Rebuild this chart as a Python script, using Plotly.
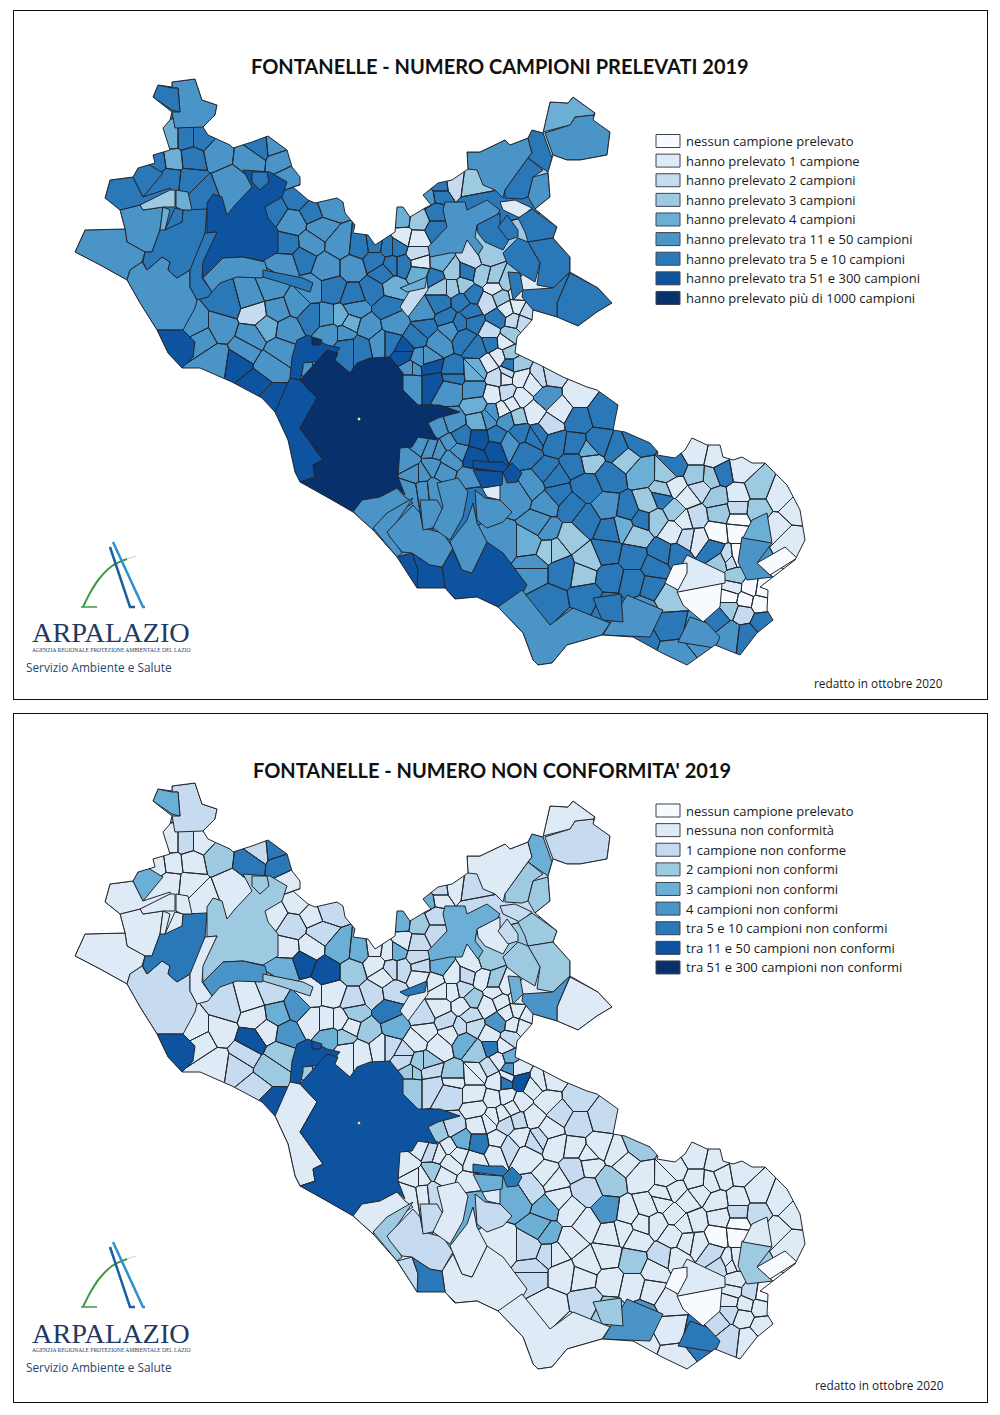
"""Fontanelle Lazio 2019: two choropleth panels drawn with Plotly.

Municipal shapes are approximated: large comuni are hand-read polygons, small
ones are cells grown around a centre point read off the map.
Map coordinates are the pixel positions of the upper map.
"""

import plotly.graph_objects as go

W, H = 1000, 1415

colori = ["#f7fbff", "#deebf7", "#c6dbef", "#9ecae1", "#6baed6", "#4a94c8", "#2b78b8", "#0d539f", "#08306b"]

legenda_campioni = [
    "nessun campione prelevato",
    "hanno prelevato 1 campione",
    "hanno prelevato 2 campioni",
    "hanno prelevato 3 campioni",
    "hanno prelevato 4 campioni",
    "hanno prelevato tra 11 e 50 campioni",
    "hanno prelevato tra 5 e 10 campioni",
    "hanno prelevato tra 51 e 300 campioni",
    "hanno prelevato più di 1000 campioni",
]
legenda_nc = [
    "nessun campione prelevato",
    "nessuna non conformità",
    "1 campione non conforme",
    "2 campioni non conformi",
    "3 campioni non conformi",
    "4 campioni non conformi",
    "tra 5 e 10 campioni non conformi",
    "tra 11 e 50 campioni non conformi",
    "tra 51 e 300 campioni non conformi",
]

# regional boundary
confine = [
    (153,97),(158,85),(172,87),(172,82),(195,79),(202,100),(217,105),(215,115),(203,127),(208,135),
    (230,145),(233,148),(252,142),(268,136),(287,150),(292,167),(300,177),(300,185),(293,187),(308,200),
    (315,203),(337,198),(343,202),(345,213),(355,225),(353,233),(368,235),(375,245),(395,232),
    (397,207),(403,207),(410,217),(425,208),(431,205),(423,195),(438,183),(452,180),(468,169),(467,152),
    (480,152),(505,140),(510,145),(528,138),(532,130),(543,133),(550,102),(568,103),(573,97),(595,113),
    (593,120),(610,132),(607,155),(580,160),(567,160),(553,155),(548,172),(550,197),(535,209),(557,227),
    (553,238),(570,257),(570,272),(598,288),(612,303),(597,312),(578,326),(557,317),(533,310),(532,320),
    (517,337),(515,353),(540,365),(563,377),(587,387),(597,390),(618,405),(613,430),(625,432),(650,443),
    (658,452),(657,455),(675,458),(685,450),(692,438),(707,445),(720,445),(723,457),(733,460),(742,457),
    (752,463),(765,463),(787,485),(800,510),(805,540),(795,560),(773,577),(760,587),(768,590),(767,610),
    (773,620),(757,633),(750,642),(740,655),(715,645),(687,665),(662,653),(633,637),(602,635),(567,645),
    (552,663),(538,665),(533,660),(523,633),(498,607),(477,597),(455,599),(445,588),(417,588),(397,557),
    (373,530),(353,512),(327,497),(300,482),(295,472),(288,440),(275,412),(262,398),(232,382),(200,368),
    (182,368),(168,353),(157,330),(140,303),(127,280),(100,265),(75,252),(85,230),(125,229),(120,210),
    (105,198),(110,180),(133,177),(138,168),(155,163),(153,155),(170,150),(163,128),(170,120),(172,112),
]

# small comuni: centre point and class on each map
nord_x = [193,167,170,186,201,217,172,192,158,250,257,277,282,230,170,190,203,290,297,273,293,313,327,320,288,310,340,302,327,287]
nord_y = [103,100,138,138,138,153,160,158,162,157,147,145,160,183,178,180,193,177,197,210,223,212,207,228,245,243,245,258,267,263]
nord_camp = [5,6,4,6,6,5,4,6,6,5,6,5,5,5,6,6,6,5,6,6,5,6,5,5,6,5,5,6,5,5]
nord_nc = [2,4,1,2,1,3,1,1,1,6,2,6,6,1,1,1,1,1,1,1,2,1,2,2,1,1,4,7,7,4]

ovest_x = [227,250,272,297,277,255,267,197,220,252,245,287,280,217,202,310,333,327,312,340,330,345,255,270,237,270]
ovest_y = [303,297,288,303,310,313,327,327,327,337,350,330,350,360,337,290,290,317,317,317,333,333,385,400,363,365]
ovest_camp = [6,5,5,5,5,2,4,5,5,5,5,5,5,5,5,5,6,5,6,4,5,5,7,7,7,5]
ovest_nc = [2,1,2,5,4,1,1,1,1,7,2,5,3,1,1,1,1,1,1,1,4,3,2,7,2,3]

centro_x = [402,418,403,397,417,437,437,417,420,419,440,453,472,467,453,435,440,463,487,482,495,495,505,488,500,472,518,507,517,527,
            513,523,498,490,510,505,490,510,498,490,510,517,462,470,423,440,447,460,473,450,425,438,465,478,403,420,412,430,453,477,
            505,520,540,360,375,375,388,402,392,353,383,373,393,388,355,350,368,395,353,380,360,347,417,390,440,455,470,428,440,473]
centro_y = [218,220,237,247,240,212,230,253,263,272,262,272,260,272,287,278,287,285,255,275,278,288,282,302,297,295,293,310,307,312,
            320,322,318,332,335,342,343,353,357,363,365,365,302,312,312,303,318,323,323,328,328,342,337,347,353,358,370,368,375,370,
            377,377,377,247,245,260,247,265,265,267,273,290,287,307,308,323,328,323,297,343,347,347,337,343,187,185,187,197,195,203]
centro_camp = [4,3,1,6,1,6,6,2,1,4,4,3,2,6,3,6,3,3,3,3,3,1,3,2,3,6,1,1,1,2,
               2,2,6,2,3,1,6,3,1,1,6,3,6,6,5,6,6,6,6,5,6,5,6,6,7,5,5,7,6,4,
               1,1,2,6,6,6,6,6,6,5,6,6,4,6,5,4,5,5,6,5,6,6,6,6,6,2,3,5,6,6]
centro_nc = [4,3,1,4,2,2,2,2,2,1,4,1,1,2,1,1,1,2,3,1,3,1,1,1,1,3,1,1,1,1,
             1,1,5,1,2,1,6,4,1,2,5,1,1,2,2,1,2,2,2,1,1,1,4,3,2,3,3,2,1,1,
             6,7,1,4,1,1,1,2,2,3,1,2,2,6,3,1,3,4,2,1,1,1,1,2,2,1,2,4,1,2]

roma_est_x = [407,420,432,415,422,433,442,450,450,457,438,410,423,433,470,472,412,413,432,450,475,453,475,477,480,493,403,427,
              480,495,475,460,452,440,487,497,508,520,538,527,547,532,517,530,503,533,547,548,497,507,493,507,520,502,512,518,507,533,550]
roma_est_y = [460,443,448,475,475,468,472,458,443,450,450,490,488,487,480,496,380,370,380,390,390,373,372,405,420,412,350,358,
              440,448,457,437,423,427,418,437,443,432,435,453,472,485,495,543,543,567,530,550,377,373,395,393,398,410,403,417,420,383,375]
roma_est_camp = [5,5,5,5,5,5,5,5,5,5,5,5,5,5,5,6,5,5,7,5,5,6,4,4,4,5,7,5,
                 7,7,7,6,5,5,5,6,5,6,6,6,6,5,5,4,5,5,5,3,2,2,1,2,1,1,1,3,5,1,2]
roma_est_nc = [1,1,2,1,1,3,1,1,1,1,1,1,1,2,1,4,3,3,2,2,1,3,1,1,1,1,2,3,
               6,1,1,4,2,3,1,1,2,1,2,1,1,2,4,2,1,2,4,2,1,1,1,1,1,1,1,2,2,1,1]

sud_x = [547,560,578,550,533,578,602,535,555,575,598,618,637,588,589,625,553,575,610,587,642,647,662,667,656,642,628,607,623,637,
         610,587,570,557,548,540,570,555,588,607,633,655,662,677,563,583,610,633,652,587,608,643,668,550,533,573,543,670,643,673,
         698,718,730,730,747,762,743,760,745,730,733,750,763,735,730,737,752,790,777,793,780,757,757,738,738,740,723,697,715,673,
         710,697,700,687,717,720,738,695,675,675,663,717,737,685,673,687,698,712,720,728]
sud_y = [397,410,395,425,413,420,413,437,442,445,443,450,442,452,460,458,477,463,477,487,473,503,497,473,520,520,510,507,527,535,
         530,520,507,495,503,525,538,550,560,552,557,567,553,555,570,573,577,582,587,597,608,610,597,603,570,627,650,627,642,653,
         633,618,608,633,635,622,613,603,600,597,587,588,590,577,560,557,560,540,527,510,497,488,510,520,495,470,473,453,457,467,
         478,477,488,498,498,513,508,517,510,487,492,532,530,520,532,538,540,550,562,558]
sud_camp = [5,1,1,2,1,6,6,6,6,6,6,6,6,4,3,3,6,6,6,6,4,3,6,3,3,6,6,5,4,3,
            6,6,6,6,5,5,3,3,3,6,6,6,6,6,6,3,6,6,6,6,6,5,3,6,5,5,5,6,6,5,
            5,6,3,5,6,6,2,0,0,0,1,0,0,3,2,0,5,1,1,1,1,3,3,0,1,1,6,1,1,6,
            3,3,2,1,3,3,2,2,3,1,3,0,0,1,1,2,1,6,3,2]
sud_nc = [1,2,2,1,1,2,2,2,1,1,1,1,3,1,1,1,1,2,3,2,1,1,1,1,1,1,1,5,1,1,
          1,1,1,1,4,4,1,1,1,1,3,1,2,1,1,1,1,1,1,2,3,5,1,1,2,1,1,1,1,1,
          6,2,2,2,1,1,1,1,1,1,1,2,0,1,1,1,3,1,1,1,1,1,2,0,1,1,1,1,1,1,
          1,1,1,1,1,1,2,1,1,1,1,0,0,1,1,1,1,2,2,1]

# large comuni, read as polygons, in drawing order
grandi_xy = [
    [(120,210),(140,205),(143,210),(163,207),(160,230),(152,252),(145,252),(127,242),(125,229)],
    [(75,252),(85,230),(125,229),(127,242),(145,252),(142,262),(130,270),(127,280),(100,265)],
    [(127,280),(130,270),(142,262),(147,270),(162,257),(170,262),(168,270),(177,278),(190,270),(190,287),(197,300),(195,308),(183,330),(157,330),(140,303)],
    [(143,262),(145,252),(152,252),(160,230),(182,222),(183,210),(207,209),(205,233),(195,262),(190,270),(177,278),(168,270),(170,262),(162,257),(147,270)],
    [(207,233),(207,203),(213,194),(222,197),(227,215),(235,205),(252,187),(243,170),(270,172),(287,182),(282,197),(265,207),(268,218),(278,230),(278,252),(263,261),(243,257),(223,258),(203,278),(202,262),(217,232)],
    [(252,172),(267,172),(269,182),(260,190),(252,182)],
    [(105,198),(110,180),(133,177),(143,197),(170,188),(172,192),(140,205),(120,210)],
    [(133,177),(138,168),(148,164),(163,173),(153,185),(143,197)],
    [(140,205),(170,190),(175,190),(175,207),(163,207),(143,210)],
    [(176,190),(188,192),(192,210),(182,210),(176,207)],
    [(163,207),(170,210),(165,230),(160,230)],
    [(175,208),(183,210),(182,222),(165,230)],
    [(203,278),(223,258),(243,257),(265,262),(267,270),(262,278),(237,277),(220,283),(212,292)],
    [(263,270),(303,278),(313,283),(310,292),(283,283),(263,277)],
    [(217,232),(203,262),(202,278),(212,292),(208,297),(197,300),(190,287),(190,270),(205,233)],
    [(157,330),(183,330),(195,342),(193,357),(182,368),(168,353)],
    [(292,357),(297,340),(308,335),(327,345),(340,348),(330,360),(303,363),(303,368),(300,380),(290,378)],
    [(312,337),(322,340),(320,345),(312,345)],
    [(290,378),(300,380),(317,398),(300,428),(323,460),(313,465),(315,477),(300,482),(295,472),(288,440),(275,412)],
    [(300,482),(315,477),(313,465),(323,460),(300,428),(317,398),(300,380),(327,350),(338,353),(335,360),(350,373),(357,363),(370,358),(390,357),(403,373),(403,390),(418,405),(440,405),(460,412),(438,418),(428,423),(437,440),(418,437),(412,447),(400,448),(398,477),(405,495),(397,488),(380,497),(362,500),(353,512),(327,497)],
    [(445,202),(465,202),(467,210),(487,200),(500,210),(497,215),(477,225),(475,237),(483,247),(478,255),(467,240),(462,253),(450,253),(430,257),(428,247),(447,227),(443,210)],
    [(467,152),(480,152),(505,140),(510,145),(528,138),(532,153),(528,158),(505,190),(503,198),(495,190),(483,185),(477,170),(468,169)],
    [(545,133),(570,125),(575,117),(593,115),(595,120),(610,132),(607,155),(580,160),(567,160),(553,155)],
    [(543,132),(550,102),(568,103),(573,97),(595,113),(593,115),(575,117),(570,125)],
    [(528,138),(532,130),(543,133),(552,158),(548,172),(528,158),(532,153)],
    [(528,158),(543,170),(533,177),(528,197),(522,199),(505,198),(505,190)],
    [(533,177),(548,173),(550,197),(535,209),(528,197)],
    [(500,202),(515,200),(532,208),(520,218),(503,210)],
    [(477,225),(497,215),(500,213),(500,228),(510,238),(503,250),(485,242),(478,233)],
    [(498,227),(507,215),(518,230),(518,237),(508,240)],
    [(518,218),(532,209),(557,227),(553,238),(528,242),(525,232)],
    [(528,242),(553,238),(570,257),(570,272),(553,288),(537,285),(540,263)],
    [(503,253),(518,238),(528,242),(540,263),(535,282),(520,273),(507,263)],
    [(557,303),(570,273),(598,288),(612,303),(597,312),(578,326),(557,317)],
    [(523,290),(553,288),(570,272),(557,303),(557,317),(533,310),(522,297)],
    [(508,272),(520,273),(523,290),(513,300)],
    [(427,277),(428,290),(408,317),(400,307),(412,287)],
    [(400,288),(427,277),(425,288),(407,292)],
    [(442,567),(453,550),(462,570),(472,573),(487,542),(503,553),(527,585),(517,603),(498,607),(477,597),(455,599),(445,588)],
    [(412,553),(418,570),(418,585),(417,588),(397,557)],
    [(412,553),(430,565),(442,567),(445,588),(457,600),(440,590),(417,588),(418,570)],
    [(353,512),(362,500),(380,497),(397,488),(405,497),(413,503),(387,520),(373,530)],
    [(373,528),(387,513),(413,498),(390,532),(402,553),(397,557)],
    [(387,532),(413,505),(420,513),(423,528),(443,533),(453,548),(442,567),(430,565),(412,553),(402,552),(390,537)],
    [(420,500),(437,500),(443,510),(437,527),(423,530)],
    [(437,483),(458,478),(468,492),(463,517),(450,540),(440,533),(433,528),(443,507)],
    [(450,542),(467,520),(473,503),(477,523),(487,542),(472,573),(462,570),(453,550)],
    [(475,490),(485,498),(500,500),(512,512),(503,522),(487,528),(477,520)],
    [(482,488),(500,485),(500,500),(487,497)],
    [(473,470),(503,472),(502,485),(482,488)],
    [(473,460),(487,462),(503,462),(508,467),(503,472),(473,468)],
    [(503,472),(512,463),(522,473),(517,482),(507,483)],
    [(677,592),(722,583),(720,607),(703,622),(683,605)],
    [(687,555),(725,573),(725,583),(678,592),(672,583)],
    [(673,565),(687,563),(687,573),(678,590),(665,583)],
    [(742,537),(772,543),(757,563),(773,577),(747,580),(738,562)],
    [(757,563),(785,547),(797,558),(770,575)],
    [(752,520),(767,513),(772,543),(743,538)],
    [(603,635),(627,595),(663,610),(650,637)],
    [(593,598),(621,594),(623,622),(602,620)],
    [(678,642),(690,617),(707,623),(720,637),(715,648)],
    [(172,82),(195,79),(202,100),(217,105),(215,115),(203,127),(175,128),(172,112),(180,112),(178,88),(172,88)],
    [(153,97),(158,85),(172,88),(178,88),(180,112),(172,110)],
    [(498,607),(522,590),(550,625),(573,608),(610,623),(602,635),(567,645),(552,663),(538,665),(533,660),(523,633)],
]
grandi_camp = [5,5,5,6,7,6,6,6,3,4,4,6,5,6,6,7,7,8,7,8,5,5,5,4,6,6,5,1,6,6,6,6,6,6,6,6,2,4,7,7,7,5,5,5,5,5,5,5,1,7,7,7,0,1,0,5,0,4,5,6,5,5,6,5]
grandi_nc = [1,1,2,6,3,3,1,4,1,1,1,1,5,3,1,7,7,7,1,7,4,1,2,1,4,3,3,2,1,2,3,3,3,1,5,4,1,6,1,2,6,1,3,2,2,1,1,2,1,4,6,6,0,1,0,3,0,1,5,3,6,2,4,1]

semi_x = nord_x + ovest_x + centro_x + roma_est_x + sud_x
semi_y = nord_y + ovest_y + centro_y + roma_est_y + sud_y
semi_camp = nord_camp + ovest_camp + centro_camp + roma_est_camp + sud_camp
semi_nc = nord_nc + ovest_nc + centro_nc + roma_est_nc + sud_nc

X0, X1, Y0, Y1 = 14, 987, 11, 699
LINEA = "#23272e"


def taglia(poly, a, b, c):
    # keep the part of a convex polygon where a*x + b*y <= c
    out = []
    for i, (x1, y1) in enumerate(poly):
        x2, y2 = poly[(i + 1) % len(poly)]
        d1 = a * x1 + b * y1 - c
        d2 = a * x2 + b * y2 - c
        if d1 <= 0:
            out.append((x1, y1))
        if d1 * d2 < 0:
            t = d1 / (d1 - d2)
            out.append((x1 + t * (x2 - x1), y1 + t * (y2 - y1)))
    return out


celle = []
for i in range(len(semi_x)):
    cella = [(X0, Y0), (X1, Y0), (X1, Y1), (X0, Y1)]
    for j in range(len(semi_x)):
        if i == j:
            continue
        a = semi_x[j] - semi_x[i]
        b = semi_y[j] - semi_y[i]
        c = (semi_x[j] ** 2 + semi_y[j] ** 2 - semi_x[i] ** 2 - semi_y[i] ** 2) / 2
        if a == 0 and b == 0:
            continue
        cella = taglia(cella, a, b, c)
        if not cella:
            break
    celle.append(cella)


def anello(poly):
    return [p[0] for p in poly] + [poly[0][0], None], [p[1] for p in poly] + [poly[0][1], None]


fig = go.Figure()


def disegna_mappa(classi_semi, classi_grandi, xa, ya):
    for k, colore in enumerate(colori):
        xs, ys = [], []
        for cella, cl in zip(celle, classi_semi):
            if cl == k and cella:
                cx, cy = anello(cella)
                xs += cx
                ys += cy
        if xs:
            fig.add_trace(go.Scatter(x=xs, y=ys, mode="lines", fill="toself", fillcolor=colore,
                                     line=dict(color=colore, width=0.5), xaxis=xa, yaxis=ya, hoverinfo="skip"))
    xs, ys = [], []
    for cella in celle:
        if cella:
            cx, cy = anello(cella)
            xs += cx
            ys += cy
    fig.add_trace(go.Scatter(x=xs, y=ys, mode="lines", line=dict(color=LINEA, width=1), xaxis=xa, yaxis=ya, hoverinfo="skip"))
    for poly, cl in zip(grandi_xy, classi_grandi):
        cx, cy = anello(poly)
        fig.add_trace(go.Scatter(x=cx[:-1], y=cy[:-1], mode="lines", fill="toself", fillcolor=colori[cl],
                                 line=dict(color=LINEA, width=1), xaxis=xa, yaxis=ya, hoverinfo="skip"))
    # white outside the region, then its boundary
    mx = [X0, X1, X1, X0, X0, None] + [p[0] for p in reversed(confine)] + [confine[-1][0]]
    my = [Y0 - 2, Y0 - 2, Y1 + 2, Y1 + 2, Y0 - 2, None] + [p[1] for p in reversed(confine)] + [confine[-1][1]]
    fig.add_trace(go.Scatter(x=mx, y=my, mode="lines", fill="toself", fillcolor="white",
                             line=dict(color="rgba(0,0,0,0)", width=0), xaxis=xa, yaxis=ya, hoverinfo="skip"))
    cx, cy = anello(confine)
    fig.add_trace(go.Scatter(x=cx[:-1], y=cy[:-1], mode="lines", line=dict(color=LINEA, width=1), xaxis=xa, yaxis=ya, hoverinfo="skip"))
    fig.add_trace(go.Scatter(x=[359], y=[419], mode="markers", marker=dict(color="white", size=3, line=dict(color="#333", width=0.5)),
                             xaxis=xa, yaxis=ya, hoverinfo="skip"))


disegna_mappa(semi_camp, grandi_camp, "x", "y")
disegna_mappa(semi_nc, grandi_nc, "x2", "y2")


def py(y):
    return 1 - y / H


shapes, notes = [], []


def testo(x, y, s, size, colore="#1a1a1a", font="Open Sans", anchor="left", bold=False):
    notes.append(dict(x=x / W, y=py(y), xref="paper", yref="paper", text=f"<b>{s}</b>" if bold else s, showarrow=False,
                      xanchor=anchor, yanchor="middle", borderpad=0, font=dict(size=size, color=colore, family=font)))


def legenda(etichette, y0):
    for i, (s, colore) in enumerate(zip(etichette, colori)):
        y = y0 + i * 19.62
        shapes.append(dict(type="rect", xref="paper", yref="paper", x0=656 / W, x1=680 / W, y0=py(y - 6.5), y1=py(y + 6.5),
                           fillcolor=colore, line=dict(color="#3c4450", width=1)))
        testo(685, y, s, 13.0)


def logo(dy):
    fig.add_trace(go.Scatter(x=[83, 90, 99, 112, 127], y=[607 + dy, 593 + dy, 579 + dy, 566 + dy, 559 + dy], mode="lines",
                             line=dict(color="#3f9a45", width=2, shape="spline"), xaxis="x3", yaxis="y3", hoverinfo="skip"))
    fig.add_trace(go.Scatter(x=[127, 136], y=[559 + dy, 556 + dy], mode="lines", line=dict(color="#c8d2c8", width=1),
                             xaxis="x3", yaxis="y3", hoverinfo="skip"))
    fig.add_trace(go.Scatter(x=[81, 97], y=[607 + dy, 607 + dy], mode="lines", line=dict(color="#3f9a45", width=1.5),
                             xaxis="x3", yaxis="y3", hoverinfo="skip"))
    fig.add_trace(go.Scatter(x=[110, 130, 135], y=[547 + dy, 607 + dy, 607 + dy], mode="lines", line=dict(color="#1c5f9f", width=2.5),
                             xaxis="x3", yaxis="y3", hoverinfo="skip"))
    fig.add_trace(go.Scatter(x=[113, 143, 145], y=[542 + dy, 607 + dy, 607 + dy], mode="lines", line=dict(color="#2f8fd0", width=2.5),
                             xaxis="x3", yaxis="y3", hoverinfo="skip"))
    testo(111, 633 + dy, "ARPALAZIO", 28.3, "#1f3a63", "Liberation Serif", "center")
    testo(111, 650 + dy, "AGENZIA REGIONALE PROTEZIONE AMBIENTALE DEL LAZIO", 5.5, "#1f3a63", "Liberation Serif", "center")
    testo(25, 667 + dy, "Servizio Ambiente e Salute", 11.8, "#25476f")


testo(500.5, 66, "FONTANELLE - NUMERO CAMPIONI PRELEVATI 2019", 20, "#111", "Lato", "center", True)
testo(491.5, 769.5, "FONTANELLE - NUMERO NON CONFORMITA' 2019", 20, "#111", "Lato", "center", True)
legenda(legenda_campioni, 141)
legenda(legenda_nc, 810.5)
logo(0)
logo(700)
testo(944, 683, "redatto in ottobre 2020", 11.8, anchor="right")
testo(945, 1385, "redatto in ottobre 2020", 11.8, anchor="right")

assi = dict(showgrid=False, zeroline=False, showticklabels=False, ticks="", showline=True, linecolor="#111", linewidth=1, mirror=True)
nudo = dict(showgrid=False, zeroline=False, showticklabels=False, ticks="", visible=False)
fig.update_layout(
    width=W,
    height=H,
    margin=dict(l=0, r=0, t=0, b=0),
    paper_bgcolor="white",
    plot_bgcolor="rgba(0,0,0,0)",
    showlegend=False,
    shapes=shapes,
    annotations=notes,
    xaxis=dict(range=[X0, X1], domain=[X0 / W, X1 / W], **assi),
    yaxis=dict(range=[Y1, Y0], domain=[py(Y1), py(Y0)], anchor="x", **assi),
    xaxis2=dict(range=[X0, X1], domain=[X0 / W, X1 / W], anchor="y2", **assi),
    yaxis2=dict(range=[Y1 - 1, Y0 - 1], domain=[py(1402), py(714)], anchor="x2", **assi),
    # full-page axis for the logos
    xaxis3=dict(range=[0, W], domain=[0, 1], anchor="y3", **nudo),
    yaxis3=dict(range=[H, 0], domain=[0, 1], anchor="x3", **nudo),
)

fig.write_html("out.html", config=dict(displayModeBar=False), post_script="document.body.style.margin='0';")
